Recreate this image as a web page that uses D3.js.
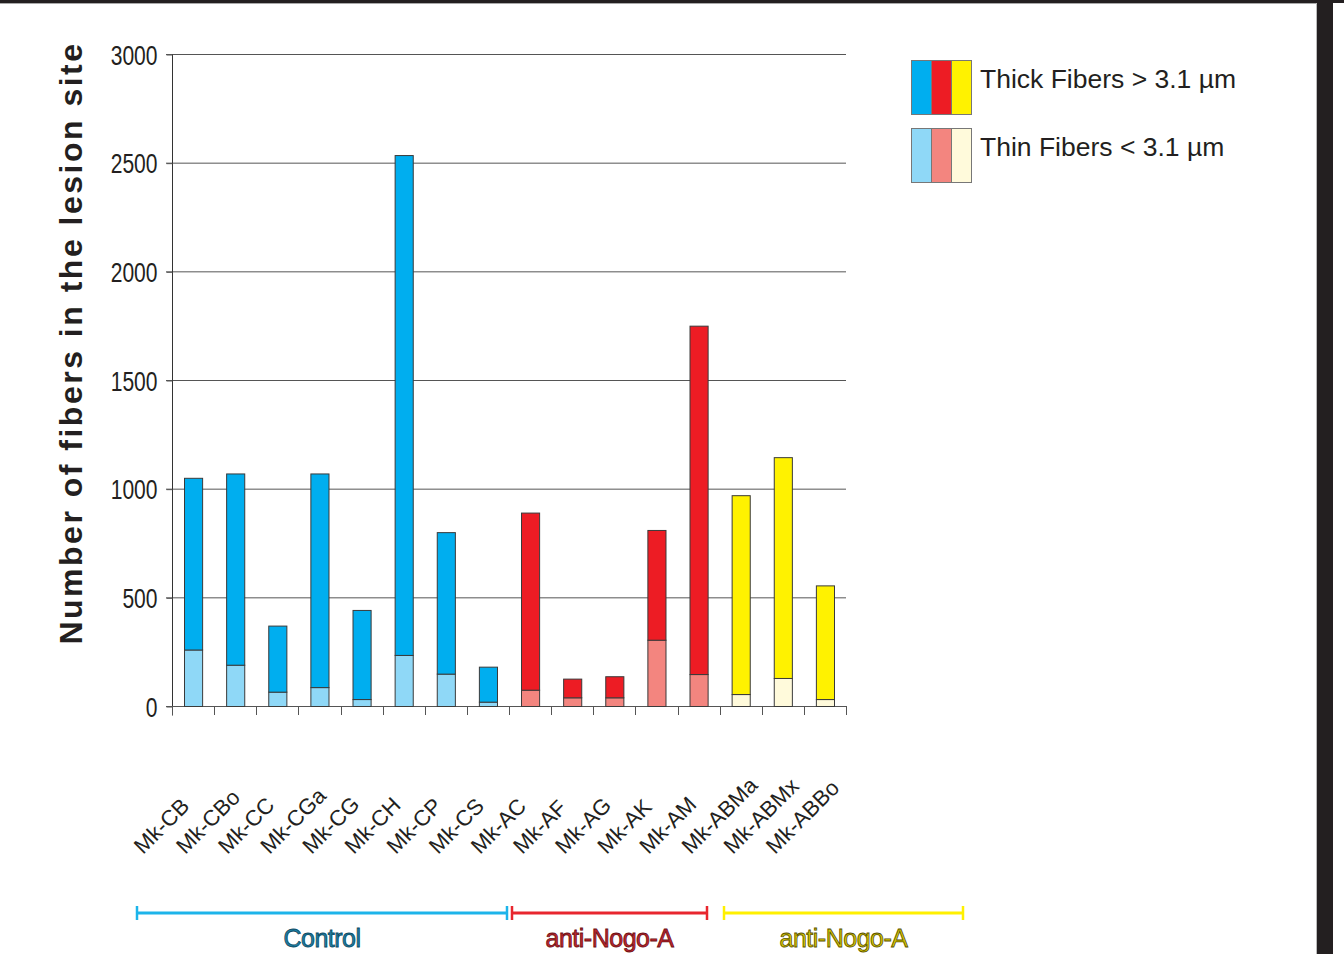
<!DOCTYPE html>
<html>
<head>
<meta charset="utf-8">
<script src="https://cdn.jsdelivr.net/npm/d3@7"></script>
<style>
  html, body { margin: 0; padding: 0; background: #fff; }
  svg { display: block; }
  text { font-family: "Liberation Sans", Arial, Helvetica, sans-serif; }
</style>
</head>
<body>
<svg id="chart" width="1344" height="954"></svg>
<script>
// Fiber counts per animal
const categories = ["Mk-CB", "Mk-CBo", "Mk-CC", "Mk-CGa", "Mk-CG", "Mk-CH", "Mk-CP", "Mk-CS",
                    "Mk-AC", "Mk-AF", "Mk-AG", "Mk-AK", "Mk-AM", "Mk-ABMa", "Mk-ABMx", "Mk-ABBo"];
const thinFibers  = [260, 190, 66, 87, 32, 235, 149, 20, 75, 40, 40, 305, 147, 55, 129, 32];
const thickFibers = [790, 880, 304, 983, 410, 2300, 651, 161, 815, 86, 97, 505, 1603, 915, 1016, 523];
const barGroup    = [0, 0, 0, 0, 0, 0, 0, 0, 1, 1, 1, 1, 1, 2, 2, 2];
const yTicks = [0, 500, 1000, 1500, 2000, 2500, 3000];

const thickColors = ["#00aeef", "#ed1c24", "#fff200"];
const thinColors  = ["#8fd8f7", "#f3857f", "#fffadb"];

const groupLabels = ["Control", "anti-Nogo-A", "anti-Nogo-A"];
const groupSpans  = [[137, 507], [512, 707], [724, 963]];
const groupLine   = ["#1cb4ea", "#e8262e", "#fff000"];
const groupFill   = ["#1c7fa3", "#c1272d", "#d8c800"];
const groupStroke = ["#0d4a63", "#6b1015", "#5a5200"];

const legendLabels = ["Thick Fibers > 3.1 µm", "Thin Fibers < 3.1 µm"];

const svg = d3.select("#chart");

// page frame
svg.append("rect").attr("x", 0).attr("y", 0).attr("width", 1344).attr("height", 3).attr("fill", "#231f20");
svg.append("line").attr("x1", 0).attr("x2", 1317).attr("y1", 3.5).attr("y2", 3.5).attr("stroke", "#aaa");
svg.append("rect").attr("x", 1317).attr("y", 0).attr("width", 16).attr("height", 954).attr("fill", "#231f20");
svg.append("line").attr("x1", 1316.5).attr("x2", 1316.5).attr("y1", 3).attr("y2", 954).attr("stroke", "#bbb");

const x = d3.scaleBand().domain(categories).range([172, 846]).paddingInner(0.57).paddingOuter(0.285);
const y = d3.scaleLinear().domain([0, 3000]).range([706, 54]);

// horizontal gridlines
svg.append("g").selectAll("line").data(yTicks).join("line")
  .attr("x1", 166).attr("x2", 846)
  .attr("y1", d => y(d) + 0.5).attr("y2", d => y(d) + 0.5)
  .attr("stroke", "#555").attr("stroke-width", 1);

// y axis, tick labels drawn condensed
const narrow = 0.78;
const yAxis = svg.append("g").attr("transform", "translate(172.5,0.5)")
  .call(d3.axisLeft(y).tickValues(yTicks).tickFormat(d3.format("d")).tickSize(6).tickPadding(9).tickSizeOuter(0));
yAxis.select(".domain").attr("d", `M0,${y(3000)}V${y(0) + 9}`).attr("stroke", "#333");
yAxis.selectAll(".tick line").attr("stroke", "#555");
yAxis.selectAll(".tick text")
  .attr("font-size", 27).attr("fill", "#231f20").attr("dy", "0.36em")
  .attr("x", -15 / narrow)
  .attr("transform", `scale(${narrow},1)`);

// x-axis ticks at band boundaries
const step = x.step();
const x0 = x.range()[0];
svg.append("g").selectAll("line").data(d3.range(categories.length + 1)).join("line")
  .attr("x1", i => Math.round(x0 + i * step) + 0.5).attr("x2", i => Math.round(x0 + i * step) + 0.5)
  .attr("y1", y(0)).attr("y2", y(0) + 9)
  .attr("stroke", "#555");

// stacked bars: thin fibers at the base, thick fibers above
const bars = svg.append("g");
categories.forEach((c, i) => {
  const g = barGroup[i];
  const total = thinFibers[i] + thickFibers[i];
  bars.append("rect")
    .attr("x", x(c) + 0.5).attr("width", x.bandwidth())
    .attr("y", y(thinFibers[i]) + 0.5).attr("height", y(0) - y(thinFibers[i]))
    .attr("fill", thinColors[g]).attr("stroke", "#3a3a3a").attr("stroke-width", 1);
  bars.append("rect")
    .attr("x", x(c) + 0.5).attr("width", x.bandwidth())
    .attr("y", y(total) + 0.5).attr("height", y(thinFibers[i]) - y(total))
    .attr("fill", thickColors[g]).attr("stroke", "#3a3a3a").attr("stroke-width", 1);
});

// category labels, rotated
svg.append("g").selectAll("text").data(categories).join("text")
  .attr("transform", d => `translate(${x(d) + x.bandwidth() / 2 - 50},855) rotate(-45)`)
  .attr("font-size", 22).attr("fill", "#231f20")
  .text(d => d);

// y axis title
svg.append("text")
  .attr("transform", "translate(82,343) rotate(-90)")
  .attr("text-anchor", "middle")
  .attr("font-size", 32).attr("font-weight", "bold")
  .attr("letter-spacing", 2.5)
  .attr("fill", "#231f20")
  .text("Number of fibers in the lesion site");

// legend
const legend = svg.append("g");
legendLabels.forEach((lab, r) => {
  const cols = r === 0 ? thickColors : thinColors;
  const top = r === 0 ? 60 : 128;
  cols.forEach((col, k) => {
    legend.append("rect")
      .attr("x", 911.5 + k * 20).attr("y", top + 0.5).attr("width", 20).attr("height", 54)
      .attr("fill", col).attr("stroke", "#777").attr("stroke-width", 1);
  });
  legend.append("text")
    .attr("x", 980).attr("y", top + 28)
    .attr("font-size", 26.5).attr("fill", "#231f20")
    .text(lab);
});

// treatment group brackets
const groups = svg.append("g");
groupLabels.forEach((lab, k) => {
  const [a, b] = groupSpans[k];
  groups.append("line").attr("x1", a).attr("x2", b).attr("y1", 913).attr("y2", 913)
    .attr("stroke", groupLine[k]).attr("stroke-width", 3);
  [a, b].forEach(px => groups.append("line")
    .attr("x1", px).attr("x2", px).attr("y1", 906).attr("y2", 920)
    .attr("stroke", groupLine[k]).attr("stroke-width", 2.5));
  groups.append("text")
    .attr("x", (a + b) / 2).attr("y", 947)
    .attr("text-anchor", "middle")
    .attr("font-size", 25).attr("letter-spacing", -0.5)
    .attr("fill", groupFill[k]).attr("stroke", groupStroke[k]).attr("stroke-width", 0.8)
    .text(lab);
});
</script>
</body>
</html>
